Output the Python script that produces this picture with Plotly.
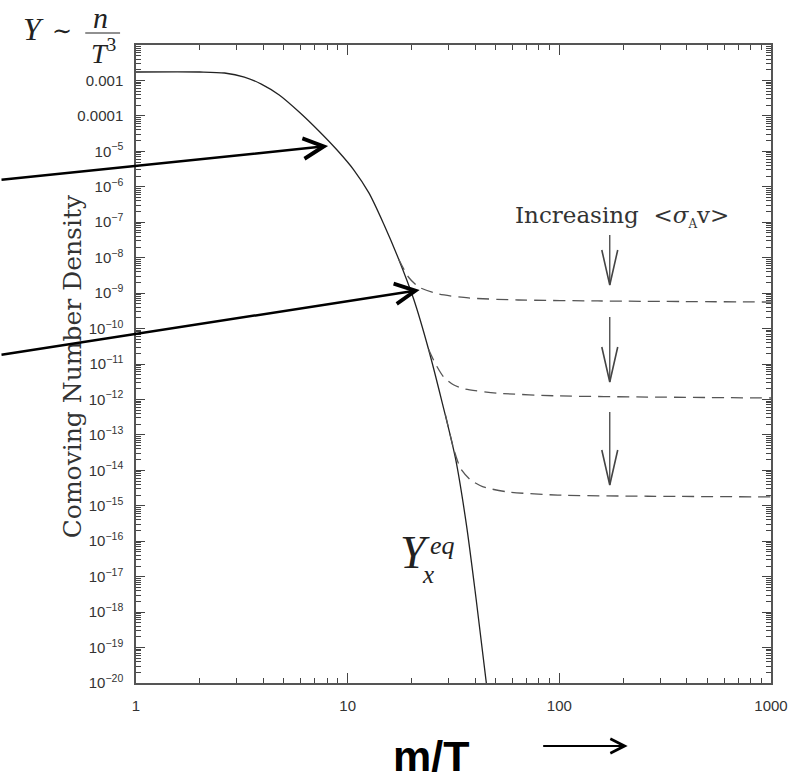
import plotly.graph_objects as go

# ---------------- data ----------------
x_eq = [1.0, 2.0, 2.62, 3.25, 3.91, 4.75, 5.90, 7.33, 8.91, 10.7, 12.6, 14.8, 17.4, 20.5, 24.1,
        27.7, 32.3, 36.4, 40.5, 45.2]
y_eq = [1.73e-3, 1.73e-3, 1.62e-3, 1.25e-3, 7.9e-4, 3.9e-4, 1.29e-4, 3.7e-5, 1.09e-5, 2.97e-6,
        6.7e-7, 8.9e-8, 9.2e-9, 6.8e-10, 2.6e-11, 1.02e-12, 2.2e-14, 2.9e-16, 2.2e-18, 1.0e-20]

x_fo1 = [17.4, 19.4, 21.6, 26.9, 37.2, 63.9, 152, 1000]
y_fo1 = [9.2e-9, 2.8e-9, 1.5e-9, 9.4e-10, 7.3e-10, 6.4e-10, 6.0e-10, 5.6e-10]

x_fo2 = [24.1, 26.0, 28.4, 31.6, 36.0, 51.4, 98.5, 261, 1000]
y_fo2 = [2.6e-11, 1.0e-11, 4.3e-12, 2.6e-12, 1.95e-12, 1.5e-12, 1.26e-12, 1.17e-12, 1.1e-12]

x_fo3 = [29.0, 31.6, 34.1, 38.0, 43.7, 57.3, 98.5, 261, 1000]
y_fo3 = [3.6e-13, 4.3e-14, 1.15e-14, 5.4e-15, 3.4e-15, 2.45e-15, 2.0e-15, 1.86e-15, 1.78e-15]

x_tick_vals = [1, 10, 100, 1000]
x_tick_text = ["1", "10", "100", "1000"]
y_exponents = list(range(-3, -21, -1))
y_tick_text = ["0.001", "0.0001"] + ["10<sup>\u2212%d</sup>" % (-e) for e in y_exponents[2:]]

# ---------------- layout helpers ----------------
L, R, T, B = 136, 774, 45, 683
W, H = R - L, B - T


def px(xp):
    return (xp - L) / W


def py(yp):
    return (B - yp) / H


fig = go.Figure()

fig.add_trace(go.Scatter(x=x_eq, y=y_eq, mode="lines",
                         line=dict(color="#222", width=1.3, shape="spline", smoothing=0.8)))
for xs, ys in [(x_fo1, y_fo1), (x_fo2, y_fo2), (x_fo3, y_fo3)]:
    fig.add_trace(go.Scatter(x=xs, y=ys, mode="lines",
                             line=dict(color="#555", width=1.3, dash="12px,7px", shape="spline", smoothing=0.6)))

x_minor = [m * 10 ** k for k in range(0, 3) for m in range(2, 10)]
y_minor = [m * 10.0 ** k for k in range(-20, -2) for m in range(2, 10)]

axis_common = dict(showgrid=False, zeroline=False, showline=True, linecolor="#555", linewidth=1.5,
                   mirror="allticks", ticks="inside", tickcolor="#444", tickwidth=1,
                   tickfont=dict(family="Liberation Sans, Arial", size=15, color="#333"))

fig.update_xaxes(type="log", range=[0, 3], tickvals=x_tick_vals, ticktext=x_tick_text, ticklen=10,
                 ticklabelstandoff=8,
                 minor=dict(ticks="inside", ticklen=5, tickvals=x_minor, tickcolor="#444", showgrid=False),
                 **axis_common)
fig.update_yaxes(type="log", range=[-20, -2], tickvals=[10.0 ** e for e in y_exponents], ticktext=y_tick_text,
                 ticklen=9, ticklabelstandoff=8,
                 minor=dict(ticks="inside", ticklen=5, tickvals=y_minor, tickcolor="#444", showgrid=False),
                 **axis_common)

fig.update_layout(width=800, height=783, margin=dict(l=L, r=800 - R, t=T, b=783 - B),
                  plot_bgcolor="white", paper_bgcolor="white", showlegend=False)

serif = "DejaVu Serif"
ann = []


def label(xp, yp, text, family, size, color="#222", angle=0):
    ann.append(dict(x=px(xp), y=py(yp), xref="paper", yref="paper", text=text, showarrow=False,
                    xanchor="center", yanchor="middle", textangle=angle,
                    font=dict(family=family, size=size, color=color)))


# y-axis title
label(72, 366, "Comoving Number Density", serif, 25, "#333", -90)
# Increasing <sigma_A v>
label(624, 217, "Increasing  &lt;<i>\u03c3</i><sub><span style='font-size:12px'>A</span></sub>v&gt;",
      serif, 23, "#333")
# Y_x^eq label
label(416, 552, "<i>Y</i>", "Liberation Serif", 46)
label(444, 545, "<i>eq</i>", "Liberation Serif", 26)
label(429, 574, "<i>x</i>", "Liberation Serif", 25)
# Y ~ n / T^3
label(33, 29, "<i>Y</i>", "Liberation Serif", 32)
label(62, 31, "\u223c", "DejaVu Serif", 24)
label(100, 18, "<i>n</i>", "Liberation Serif", 30)
label(104, 51, "<i>T</i><sup>3</sup>", "Liberation Serif", 28)
# m/T axis label
label(432, 756, "<b>m/T</b>", "Liberation Sans, Arial", 43, "#000")

ann.append(dict(x=px(630), y=py(746), xref="paper", yref="paper", text="", showarrow=True,
                ax=-86, ay=0, arrowhead=5, arrowsize=1.4, arrowwidth=2, arrowcolor="#000"))
# big black arrows
ann.append(dict(x=px(329), y=py(146), xref="paper", yref="paper", text="", showarrow=True,
                ax=-329, ay=34, arrowhead=5, arrowsize=1.6, arrowwidth=2.5, arrowcolor="#000"))
ann.append(dict(x=px(421), y=py(290), xref="paper", yref="paper", text="", showarrow=True,
                ax=-421, ay=65, arrowhead=5, arrowsize=1.6, arrowwidth=2.5, arrowcolor="#000"))
fig.update_layout(annotations=ann)

# gray downward arrows (open, narrow heads)
shapes = []
for tail, vstart, tip in [(235, 250, 285), (317, 347, 382), (412, 450, 485)]:
    xc = 612
    shapes.append(dict(type="line", xref="paper", yref="paper", x0=px(xc), x1=px(xc), y0=py(tail), y1=py(tip),
                       line=dict(color="#444", width=1.3)))
    path = "M %f,%f L %f,%f L %f,%f" % (px(xc - 8), py(vstart), px(xc), py(tip), px(xc + 8), py(vstart))
    shapes.append(dict(type="path", xref="paper", yref="paper", path=path, line=dict(color="#444", width=1.6)))
# fraction bar
shapes.append(dict(type="line", xref="paper", yref="paper", x0=px(85), x1=px(120), y0=py(33), y1=py(33),
                   line=dict(color="#222", width=1.2)))
fig.update_layout(shapes=shapes)

fig.write_html("out.html")
